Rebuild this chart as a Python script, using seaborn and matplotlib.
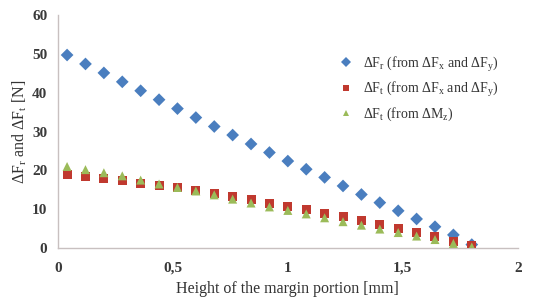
import numpy as np
import pandas as pd
import matplotlib
matplotlib.use("Agg")
import matplotlib.pyplot as plt
import seaborn as sns

# data
height = [0.04, 0.12, 0.20, 0.28, 0.36, 0.44, 0.52, 0.60, 0.68, 0.76, 0.84, 0.92,
          1.00, 1.08, 1.16, 1.24, 1.32, 1.40, 1.48, 1.56, 1.64, 1.72, 1.80]
fr_xy = [49.7, 47.4, 45.1, 42.8, 40.5, 38.2, 35.9, 33.6, 31.3, 29.1, 26.8, 24.6,
         22.4, 20.3, 18.2, 16.0, 13.8, 11.7, 9.6, 7.5, 5.5, 3.4, 0.9]
ft_xy = [19.0, 18.4, 17.8, 17.3, 16.7, 16.1, 15.5, 14.8, 14.0, 13.2, 12.4, 11.6,
         10.8, 9.9, 9.0, 8.1, 7.1, 6.1, 5.1, 4.0, 2.9, 1.8, 0.6]
ft_mz = [21.0, 20.2, 19.4, 18.6, 17.5, 16.5, 15.6, 14.7, 13.7, 12.6, 11.6, 10.6,
         9.7, 8.8, 7.8, 6.8, 5.9, 4.9, 4.0, 3.1, 2.2, 1.2, 0.3]

labels = [
    "ΔF$_\\mathregular{r}$ (from ΔF$_\\mathregular{x}$ and ΔF$_\\mathregular{y}$)",
    "ΔF$_\\mathregular{t}$ (from ΔF$_\\mathregular{x}$ and ΔF$_\\mathregular{y}$)",
    "ΔF$_\\mathregular{t}$ (from ΔM$_\\mathregular{z}$)",
]
colors = ["#4a7ebf", "#c0392f", "#9bbb59"]
markers = ["D", "s", "^"]

df = pd.DataFrame({"h": height, labels[0]: fr_xy, labels[1]: ft_xy, labels[2]: ft_mz})
long = df.melt(id_vars="h", var_name="series", value_name="force")

sns.set_theme(style="white")
plt.rcParams["font.family"] = ["Liberation Serif", "DejaVu Serif"]
plt.rcParams["mathtext.fontset"] = "custom"
plt.rcParams["mathtext.rm"] = "Liberation Serif"

fig = plt.figure(figsize=(5.36, 3.0), dpi=100)
ax = fig.add_axes([0.108, 0.173, 0.858, 0.777])

sns.scatterplot(data=long, x="h", y="force", hue="series", style="series",
                palette=dict(zip(labels, colors)), markers=dict(zip(labels, markers)),
                s=42, linewidth=0, ax=ax, zorder=3)

ax.set_xlim(0, 2)
ax.set_ylim(0, 60)
ax.set_xticks([0, 0.5, 1, 1.5, 2])
ax.set_xticklabels(["0", "0,5", "1", "1,5", "2"])
ax.set_yticks(range(0, 61, 10))
ax.tick_params(axis="both", labelsize=11, colors="#c8c0c0", direction="out",
               length=4, width=0.8, labelcolor="#3a3a3a")
ax.tick_params(axis="x", pad=6)
for t in ax.get_xticklabels() + ax.get_yticklabels():
    t.set_fontweight("bold")
sns.despine(ax=ax)
for sp in ["left", "bottom"]:
    ax.spines[sp].set_color("#c8c0c0")
    ax.spines[sp].set_linewidth(1.0)

ax.set_xlabel("Height of the margin portion [mm]", fontsize=11.5, color="#333333")
ax.set_ylabel("ΔF$_\\mathregular{r}$ and ΔF$_\\mathregular{t}$ [N]", fontsize=11.5,
              color="#333333", labelpad=2)

leg = ax.legend(loc="upper left", bbox_to_anchor=(0.585, 0.855), frameon=False,
                fontsize=10, handletextpad=0.2, labelspacing=0.45, borderaxespad=0,
                markerscale=0.75, title=None)
for t in leg.get_texts():
    t.set_color("#333333")

fig.savefig("out.png", dpi=100)
